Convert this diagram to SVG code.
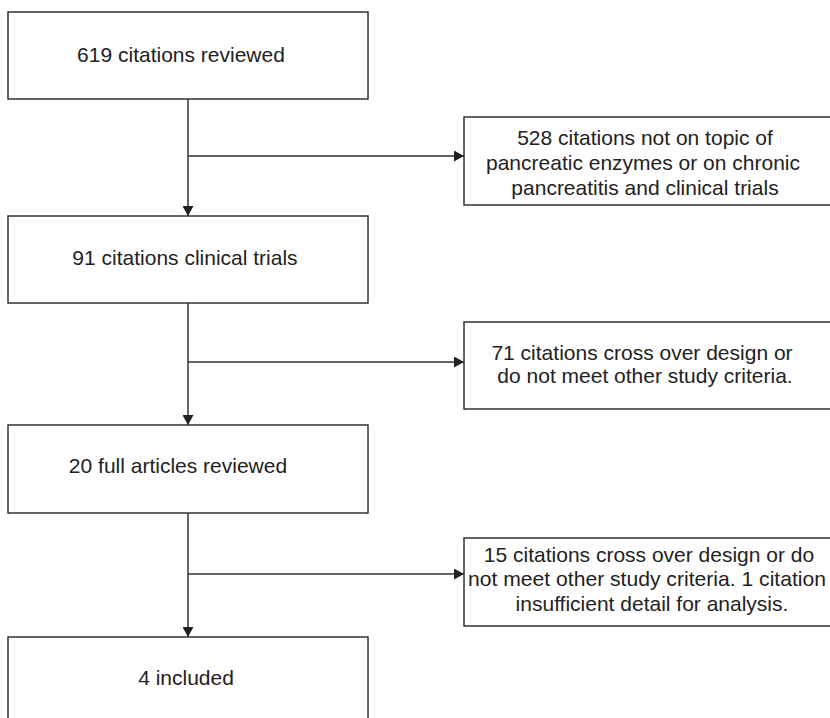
<svg xmlns="http://www.w3.org/2000/svg" width="830" height="718" viewBox="0 0 830 718">
<defs>
<style>
.box{fill:#fff;stroke:#333;stroke-width:1.5}
.ln{fill:none;stroke:#333;stroke-width:1.5}
text{font-family:"Liberation Sans",Arial,sans-serif;font-size:21px;fill:#222;text-anchor:middle}
</style>
<marker id="ah" viewBox="0 0 10 11" refX="10" refY="5.5" markerWidth="10" markerHeight="11" markerUnits="userSpaceOnUse" orient="auto">
<path d="M0,0 L10,5.5 L0,11 z" fill="#222"/>
</marker>
</defs>
<g id="n1"><rect class="box" x="8" y="12" width="360" height="87"/><text x="181" y="62">619 citations reviewed</text></g>
<g id="n2"><rect class="box" x="8" y="216" width="360" height="87"/><text x="185" y="265">91 citations clinical trials</text></g>
<g id="n3"><rect class="box" x="8" y="425" width="360" height="88"/><text x="178" y="473">20 full articles reviewed</text></g>
<g id="n4"><rect class="box" x="8" y="637" width="360" height="100"/><text x="186" y="685">4 included</text></g>
<g id="e1"><rect class="box" x="464" y="117" width="380" height="88"/>
<text x="645" y="145">528 citations not on topic of</text>
<text x="643" y="170">pancreatic enzymes or on chronic</text>
<text x="645" y="195">pancreatitis and clinical trials</text></g>
<g id="e2"><rect class="box" x="464" y="322" width="380" height="87"/>
<text x="642" y="360">71 citations cross over design or</text>
<text x="645" y="383">do not meet other study criteria.</text></g>
<g id="e3"><rect class="box" x="464" y="538" width="380" height="88"/>
<text x="649" y="562">15 citations cross over design or do</text>
<text x="647" y="586" textLength="358" lengthAdjust="spacingAndGlyphs">not meet other study criteria. 1 citation</text>
<text x="652" y="611">insufficient detail for analysis.</text></g>
<g id="connectors">
<line class="ln" x1="188" y1="99" x2="188" y2="216" marker-end="url(#ah)"/>
<line class="ln" x1="188" y1="156" x2="464" y2="156" marker-end="url(#ah)"/>
<line class="ln" x1="188" y1="303" x2="188" y2="425" marker-end="url(#ah)"/>
<line class="ln" x1="188" y1="362" x2="464" y2="362" marker-end="url(#ah)"/>
<line class="ln" x1="188" y1="513" x2="188" y2="637" marker-end="url(#ah)"/>
<line class="ln" x1="188" y1="574" x2="464" y2="574" marker-end="url(#ah)"/>
</g>
</svg>
